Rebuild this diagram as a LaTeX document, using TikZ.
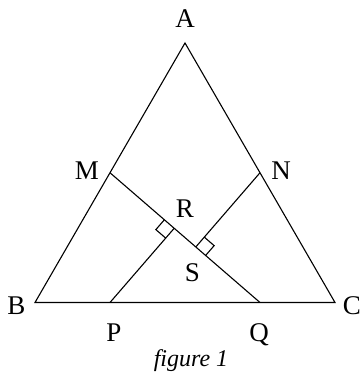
\documentclass[tikz,border=0pt]{standalone}
\usepackage{fontspec}
\setmainfont{Liberation Serif}
\usetikzlibrary{calc}
\begin{document}
\begin{tikzpicture}[x=1pt,y=1pt,line width=1.1pt,
  lab/.style={font=\fontsize{27}{27}\selectfont,inner sep=0pt,anchor=base},
  figcaption/.style={font=\fontsize{24}{24}\selectfont\itshape,inner sep=0pt,anchor=base}]
\useasboundingbox (0,0) rectangle (364,373);
\coordinate (A) at (185,330);
\coordinate (B) at (35,70.5);
\coordinate (C) at (335,70.5);
\coordinate (M) at ($(A)!0.5!(B)$);
\coordinate (N) at ($(A)!0.5!(C)$);
\coordinate (P) at ($(B)!0.25!(C)$);
\coordinate (Q) at ($(B)!0.75!(C)$);
\coordinate (R) at ($(M)!(P)!(Q)$);
\coordinate (S) at ($(M)!(N)!(Q)$);
\draw (A) -- (B) -- (C) -- cycle;
\draw (M) -- (Q);
\draw (P) -- (R);
\draw (N) -- (S);
% right angle marks
\coordinate (R1) at ($(R)!13pt!(M)$);
\coordinate (R2) at ($(R)!13pt!(P)$);
\draw (R1) -- ($(R1)+(R2)-(R)$) -- (R2);
\coordinate (S1) at ($(S)!13pt!(N)$);
\coordinate (S2) at ($(S)!13pt!(Q)$);
\draw (S1) -- ($(S1)+(S2)-(S)$) -- (S2);
% labels
\node[lab] (lA) at (185,345) {A};
\node[lab] (lB) at (16.5,58) {B};
\node[lab] (lC) at (352,58) {C};
\node[lab] (lM) at (87,193) {M};
\node[lab] (lN) at (281,193) {N};
\node[lab] (lR) at (185,155) {R};
\node[lab] (lS) at (192.5,91) {S};
\node[lab] (lP) at (114,31) {P};
\node[lab] (lQ) at (259,31) {Q};
\node[figcaption] (fig) at (191,6) {figure 1};
\end{tikzpicture}
\end{document}
